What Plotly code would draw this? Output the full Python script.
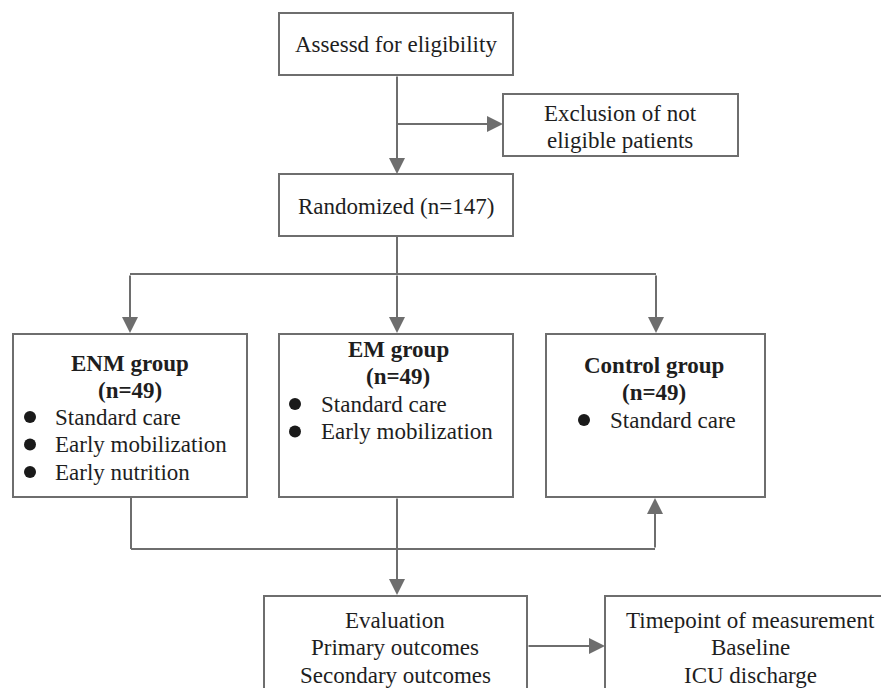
import plotly.graph_objects as go

# ---- data (text content of the flowchart) ----
assess_label = ["Assessd for eligibility"]
exclusion_label = ["Exclusion of not", "eligible patients"]
randomized_label = ["Randomized (n=147)"]
group_titles = ["ENM group", "EM group", "Control group"]
group_sizes = [49, 49, 49]
group_items = [
    ["Standard care", "Early mobilization", "Early nutrition"],
    ["Standard care", "Early mobilization"],
    ["Standard care"],
]
evaluation_label = ["Evaluation", "Primary outcomes", "Secondary outcomes"]
timepoint_label = ["Timepoint of measurement", "Baseline", "ICU discharge"]

# ---- layout geometry / style ----
W, H = 889, 688
OFF = 8  # page body margin compensation
LINE = "#6e6e6e"
TXT = "#1e1e1e"
FONT = "Liberation Serif"
FS = 23

fig = go.Figure()
shapes = []
annotations = []


def box(x0, y0, x1, y1):
    shapes.append(dict(type="rect", xref="x", yref="y", x0=x0, y0=y0, x1=x1, y1=y1,
                       line=dict(color=LINE, width=2), fillcolor="white", layer="below"))


def seg(x0, y0, x1, y1):
    shapes.append(dict(type="line", xref="x", yref="y", x0=x0, y0=y0, x1=x1, y1=y1,
                       line=dict(color=LINE, width=2)))


def arrow(x0, y0, x1, y1):
    annotations.append(dict(x=x1, y=y1, ax=x0, ay=y0, xref="x", yref="y", axref="x", ayref="y",
                            text="", showarrow=True, arrowhead=2, arrowsize=1.6, arrowwidth=2,
                            arrowcolor=LINE, standoff=0, startstandoff=0))


def text(x, y, s, bold=False, anchor="center"):
    annotations.append(dict(x=x, y=y, xref="x", yref="y", text=("<b>%s</b>" % s) if bold else s,
                            showarrow=False, xanchor=anchor, yanchor="middle",
                            font=dict(family=FONT, size=FS, color=TXT)))


# boxes
box(279, 13, 513, 75)
box(503, 94, 738, 156)
box(279, 174, 513, 236)
group_boxes = [(13, 334, 247, 497), (279, 334, 513, 497), (546, 334, 765, 497)]
for b in group_boxes:
    box(*b)
box(264, 596, 527, 720)
box(605, 596, 920, 720)

# connectors
arrow(397, 75, 397, 174)
arrow(396, 124, 503, 124)
seg(397, 236, 397, 274)
seg(130, 274, 656, 274)
arrow(130, 274, 130, 333)
arrow(397, 274, 397, 333)
arrow(656, 274, 656, 333)
seg(131, 497, 131, 549)
seg(131, 549, 655, 549)
arrow(655, 549, 655, 498)
arrow(397, 497, 397, 595)
arrow(527, 646, 605, 646)

# texts
text(396, 44, assess_label[0])
for i, s in enumerate(exclusion_label):
    text(620, 113 + 27.5 * i, s)
text(396, 206, randomized_label[0])

title_y = [363, 349, 365]
centers = [130, 398, 654]
bullet_x = [30, 295, 584]
item_x = [53, 319, 608]
item_y0 = [417, 404, 420]
bx, by = [], []
for g in range(3):
    text(centers[g], title_y[g], group_titles[g], bold=True)
    text(centers[g], title_y[g] + 27, "(n=%d)" % group_sizes[g], bold=True)
    for j, it in enumerate(group_items[g]):
        yy = item_y0[g] + 27.5 * j
        text(item_x[g], yy, it, anchor="left")
        bx.append(bullet_x[g])
        by.append(yy)

fig.add_trace(go.Scatter(x=bx, y=by, mode="markers",
                         marker=dict(symbol="circle", size=12, color="#1a1a1a"),
                         hoverinfo="skip", showlegend=False))

for i, s in enumerate(evaluation_label):
    text(395, 620 + 27.5 * i, s)
for i, s in enumerate(timepoint_label):
    text(750, 620 + 27.5 * i, s)

fig.update_layout(
    width=W, height=H, margin=dict(l=0, r=0, t=0, b=0),
    paper_bgcolor="white", plot_bgcolor="white",
    xaxis=dict(range=[OFF, W + OFF], visible=False, fixedrange=True),
    yaxis=dict(range=[H + OFF, OFF], visible=False, fixedrange=True),
    shapes=shapes, annotations=annotations, showlegend=False,
)

fig.write_html("out.html")
